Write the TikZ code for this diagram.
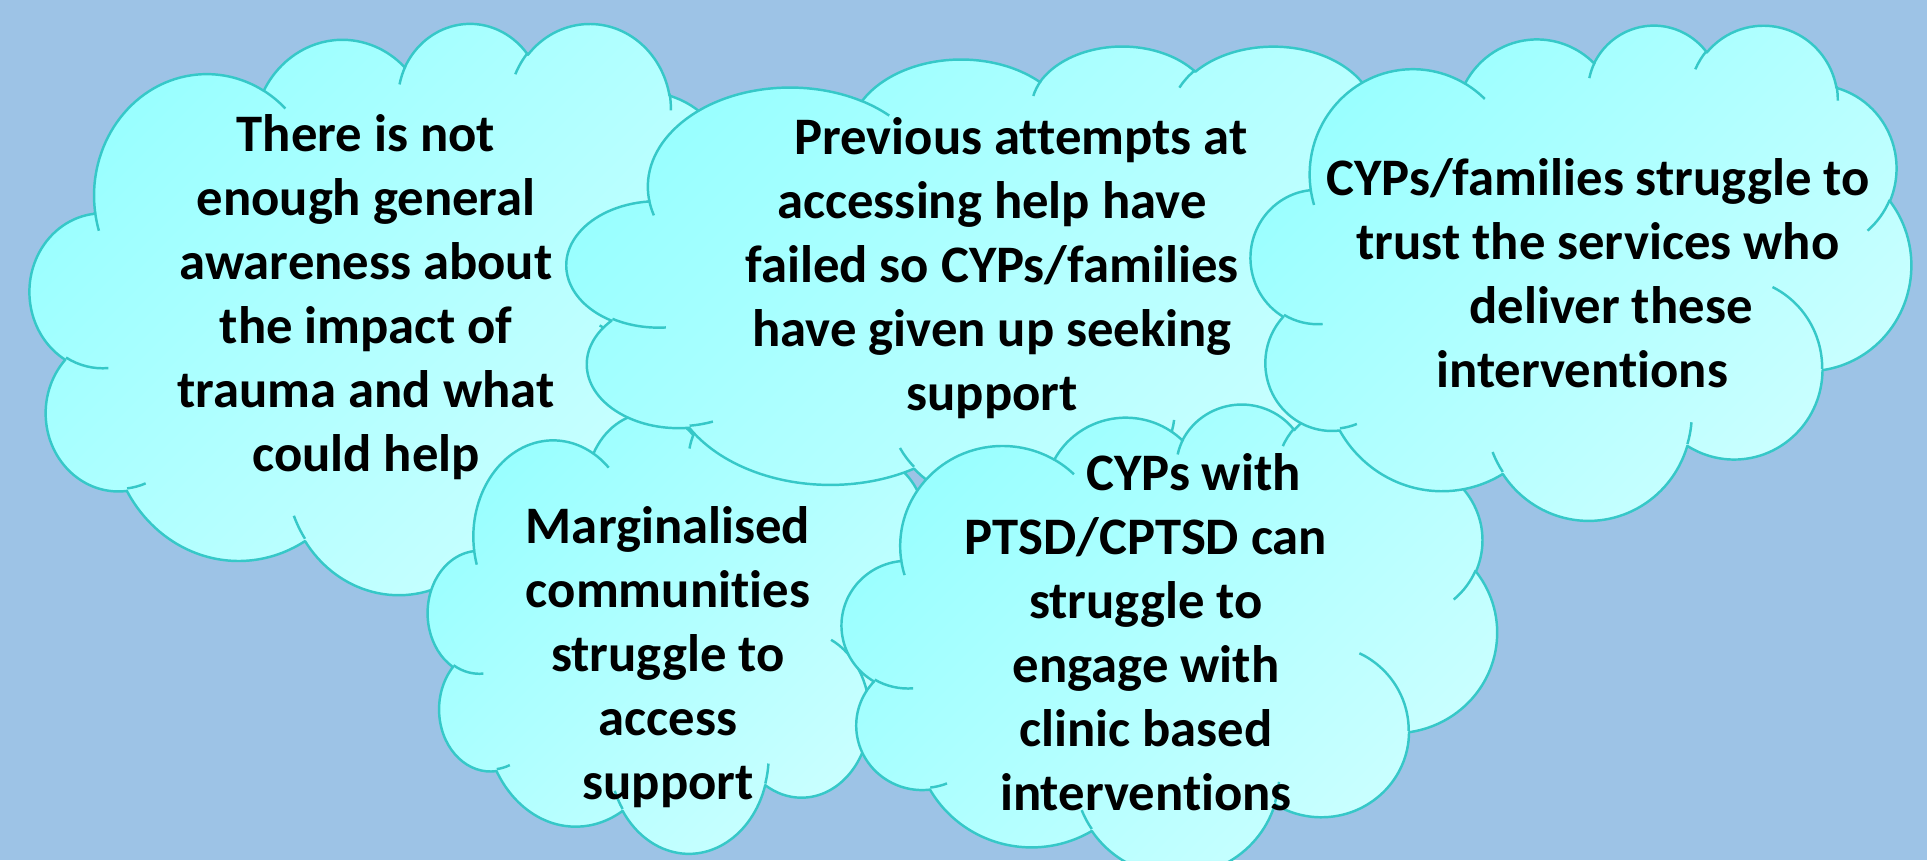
\documentclass[tikz,border=0pt]{standalone}
\usepackage{fontspec}
\setmainfont{Carlito}[Ligatures=NoCommon]
\usepackage{tikz}

\definecolor{skyback}{HTML}{9DC3E6}
\definecolor{cloudedge}{HTML}{36C8C8}
\definecolor{cloudtop}{HTML}{99FFFF}
\definecolor{cloudbottom}{HTML}{CCFFFF}

\tikzset{
  % arc given by radii, start angle and sweep as seen on the ellipse
  pptarc/.style n args={4}{x radius=#1, y radius=#2,
    start angle={atan2(#1*sin(#3),#2*cos(#3))},
    delta angle={mod(atan2(#1*sin(#3+#4),#2*cos(#3+#4))-atan2(#1*sin(#3),#2*cos(#3))-(#4)+540,360)-180+(#4)}},
  cloudline/.style={draw=cloudedge, line width=1.4pt, line join=round},
  cloudfill/.style={top color=cloudtop, bottom color=cloudbottom, shading angle=45},
  cloudtext/.style={align=center, inner sep=0pt, font=\fontsize{30}{36.4}\selectfont\bfseries},
  thought cloud/.pic={
    \path[cloudline, cloudfill] (3.900,14.370)
      arc[pptarc={6.753}{9.190}{-190.487}{123.781}]
      arc[pptarc={5.333}{7.267}{-144.102}{89.945}]
      arc[pptarc={4.365}{5.945}{-145.808}{99.723}]
      arc[pptarc={4.857}{6.595}{-130.986}{117.242}]
      arc[pptarc={5.333}{7.273}{-78.709}{109.027}]
      arc[pptarc={6.775}{9.220}{-46.267}{130.269}]
      arc[pptarc={5.785}{7.867}{0.625}{114.033}]
      arc[pptarc={6.752}{9.215}{22.452}{115.173}]
      arc[pptarc={7.720}{10.543}{66.243}{75.711}]
      arc[pptarc={4.360}{5.918}{-274.942}{146.736}]
      arc[pptarc={4.345}{5.945}{-246.829}{152.519}] -- cycle;
    % little inner hooks
    \draw[cloudline]
      (4.693,26.177) arc[pptarc={4.345}{5.945}{86.742}{26.430}]
      (6.928,34.899) arc[pptarc={4.360}{5.918}{73.610}{11.447}]
      (16.478,39.090) arc[pptarc={6.752}{9.215}{137.624}{14.081}]
      (28.827,34.751) arc[pptarc={6.752}{9.215}{6.453}{15.998}]
      (34.129,22.954) arc[pptarc={5.785}{7.867}{-70.292}{70.917}]
      (41.798,15.354) arc[pptarc={5.333}{7.273}{30.318}{27.752}]
      (38.324,5.426) arc[pptarc={4.857}{6.595}{-13.744}{14.859}]
      (29.078,3.952) arc[pptarc={4.857}{6.595}{-149.181}{18.195}]
      (22.141,4.720) arc[pptarc={4.365}{5.945}{-163.494}{17.686}]
      (14.000,5.192) arc[pptarc={6.753}{9.190}{-66.707}{12.319}]
      (4.127,15.789) arc[pptarc={6.753}{9.190}{157.654}{11.858}];
  }
}

\begin{document}
\begin{tikzpicture}[x=0.02cm, y=-0.02cm]
  \useasboundingbox (0,0) rectangle (1927,860);
  \clip (0,0) rectangle (1927,860);
  \fill[skyback] (0,0) rectangle (1927,860);

  % clouds, back to front
  \pic[xscale=16.69, yscale=13.22] at (30,22) {thought cloud};
  \pic[xscale=11.81, yscale=10.49] at (428,399) {thought cloud};
  \pic[xscale=21.06, yscale=10.79] at (567,45) {thought cloud};
  \pic[xscale=15.16, yscale=10.90] at (842,403) {thought cloud};
  \pic[xscale=15.28, yscale=11.46] at (1251,24) {thought cloud};

  % texts
  \node[cloudtext] (awareness) at (366,297)
    {There is not\\enough general\\awareness about\\the impact of\\trauma and what\\could help};
  \node[cloudtext] (attempts) at (992,268)
    {\hspace*{1.1em}Previous attempts at\\accessing help have\\failed so CYPs/families\\have given up seeking\\support};
  \node[cloudtext] (trust) at (1598,273)
    {CYPs/families struggle to\\trust the services who\\\hspace*{0.5em}deliver these\\interventions\hspace*{0.6em}};
  \node[cloudtext] (marginalised) at (668,657)
    {Marginalised\\communities\\struggle to\\access\\support};
  \node[cloudtext] (ptsd) at (1146,632)
    {\hspace*{1.8em}CYPs with\\PTSD/CPTSD can\\struggle to\\engage with\\clinic based\\interventions};
\end{tikzpicture}
\end{document}
